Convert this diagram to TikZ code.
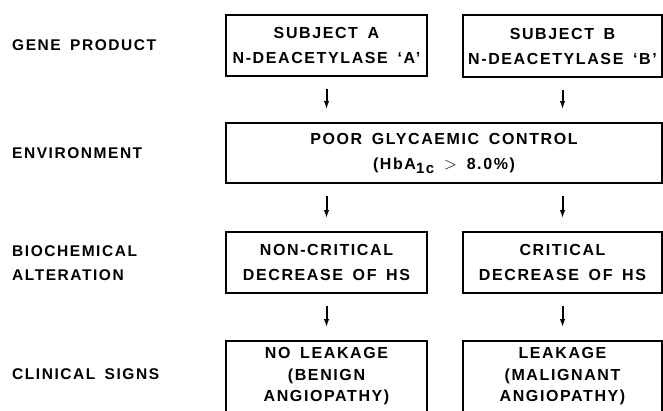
\documentclass[tikz,border=0pt]{standalone}
\usepackage{fontspec}
\newfontfamily\figfont[LetterSpace=10, WordSpace=1.6]{Liberation Sans}
\usepackage{tikz}
\usetikzlibrary{arrows.meta, positioning, calc}

\begin{document}
\begin{tikzpicture}[
    x=1pt, y=-1pt,
    box/.style={rectangle, draw=black, line width=1.9pt, inner sep=0pt, align=center, font=\figfont\bfseries\fontsize{16}{25}\selectfont},
    stage/.style={anchor=west, align=left, inner sep=0pt, font=\figfont\bfseries\fontsize{15.5}{24}\selectfont},
    arrow/.style={line width=2pt, -{Latex[length=8pt, width=5.5pt]}, shorten <=12pt, shorten >=13pt}
]

% Picture frame (clinical boxes run off the bottom)
\clip (0,0) rectangle (663,410);

% ===== STAGE LABELS =====
\node[stage] (gene) at (12, 45) {GENE PRODUCT};
\node[stage] (envlbl) at (12, 153) {ENVIRONMENT};
\node[stage] (bio) at (12, 263) {BIOCHEMICAL\\ALTERATION};
\node[stage] (clin) at (12, 374) {CLINICAL SIGNS};

% ===== BOXES =====
% Gene product
\node[box, minimum width=201pt, minimum height=61pt] (subA) at (326.5, 45.5) {SUBJECT A\\N-DEACETYLASE ‘A’};
\node[box, minimum width=199pt, minimum height=62pt] (subB) at (562.5, 46) {SUBJECT B\\N-DEACETYLASE ‘B’};

% Environment
\node[box, minimum width=436pt, minimum height=60pt] (env) at (444, 153) {POOR GLYCAEMIC CONTROL\\(HbA\raisebox{-4pt}{\fontsize{15}{15}\selectfont 1c} $>$ 8.0\%)};

% Biochemical alteration
\node[box, minimum width=201pt, minimum height=61pt] (hsA) at (326.5, 262.5) {NON-CRITICAL\\DECREASE OF HS};
\node[box, minimum width=199pt, minimum height=61pt] (hsB) at (562.5, 262.5) {CRITICAL\\DECREASE OF HS};

% Clinical signs
\node[box, minimum width=201pt, minimum height=71pt, font=\figfont\bfseries\fontsize{16}{21.5}\selectfont] (leakA) at (326.5, 376.5) {NO LEAKAGE\\(BENIGN\\ANGIOPATHY)};
\node[box, minimum width=199pt, minimum height=71pt, font=\figfont\bfseries\fontsize{16}{21.5}\selectfont] (leakB) at (562.5, 376.5) {LEAKAGE\\(MALIGNANT\\ANGIOPATHY)};

% ===== ARROWS =====
\draw[arrow] (subA.south) -- (subA.south |- env.north);
\draw[arrow] (subB.south) -- (subB.south |- env.north);
\draw[arrow] (env.south -| hsA.north) -- (hsA.north);
\draw[arrow] (env.south -| hsB.north) -- (hsB.north);
\draw[arrow] (hsA.south) -- (leakA.north);
\draw[arrow] (hsB.south) -- (leakB.north);

\end{tikzpicture}
\end{document}
